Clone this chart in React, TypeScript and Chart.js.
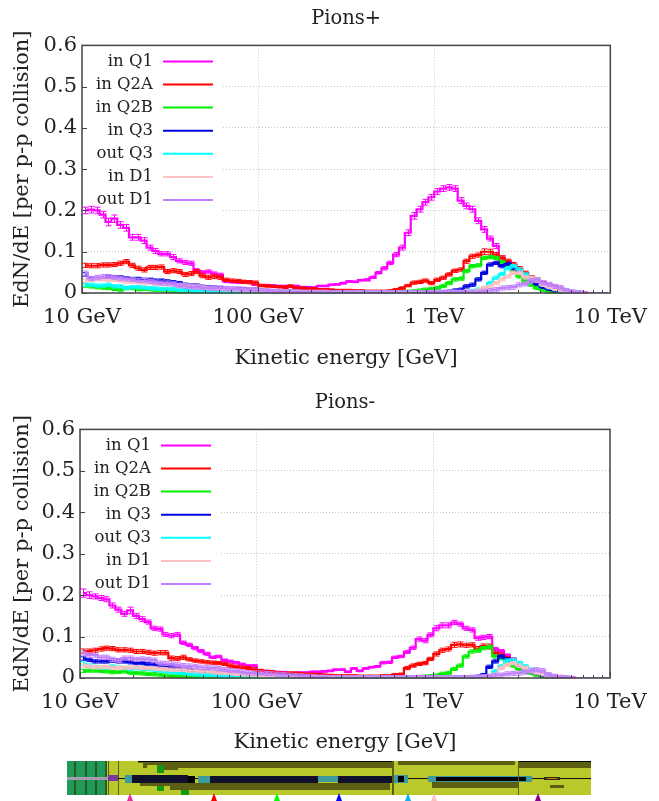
import React, { useEffect, useRef } from "react";
import { Chart, registerables } from "chart.js";
Chart.register(...registerables);

const FONT = "'DejaVu Serif', serif";
const xTickValues = [10, 100, 1000, 10000];
const xTickLabels = ["10 GeV", "100 GeV", "1 TeV", "10 TeV"];
const seriesNames = ["in Q1", "in Q2A", "in Q2B", "in Q3", "out Q3", "in D1", "out D1"];
const seriesColors = ["#ff00ff", "#ff0000", "#00ee00", "#0000e0", "#00ffff", "#ffc0c0", "#c080ff"];
const otherErrors = [0, 0, 0.004, 0.004, 0.004, 0.004, 0.005];
const BINS_PER_DECADE = 30;
const binCentres: number[] = [];
for (let i = 0; i < 90; i++) binCentres.push(Math.pow(10, 1 + (i + 0.5) / BINS_PER_DECADE));

const plusQ1 = [
  .2,.202,.2,.19,.172,.18,.165,.158,.135,.135,
  .127,.11,.102,.095,.095,.087,.078,.074,.072,.055,
  .05,.052,.047,.044,.028,.027,.026,.026,.027,.02,
  .019,.019,.018,.017,.017,.015,.017,.014,.014,.013,
  .017,.017,.02,.021,.024,.028,.027,.031,.032,.038,
  .049,.06,.073,.093,.11,.146,.187,.203,.22,.232,
  .246,.253,.256,.253,.224,.211,.203,.175,.154,.132,
  .114,.085,.075,.066,.055,.046,.038,.03,.025,.02,
  .015,.01,.006,.004,.002,.001,0,0,0,0];
const plusQ1Err = [
  .008,.008,.008,.008,.009,.009,.008,.008,.007,.007,
  .007,.006,.006,.005,.005,.006,.005,.005,.005,.004,
  .004,.004,.004,.004,.003,.003,.003,.003,.003,.002,
  .002,.002,.002,.002,.002,.002,.002,.002,.002,.002,
  .002,.002,.002,.002,.002,.002,.002,.002,.003,.003,
  .003,.004,.004,.005,.006,.007,.008,.007,.007,.007,
  .007,.007,.007,.007,.007,.007,.007,.007,.007,.006,
  .006,.005,.004,.004,.003,.003,.003,.002,.002,.002,
  .002,.001,.001,.001,.001,.001,0,0,0,0];
const plusQ2A = [
  .067,.066,.066,.068,.068,.069,.072,.076,.067,.06,
  .056,.062,.062,.063,.052,.054,.052,.045,.047,.052,
  .042,.038,.04,.038,.032,.03,.029,.027,.026,.025,
  .018,.017,.016,.015,.014,.017,.012,.012,.01,.01,
  .008,.008,.007,.006,.006,.006,.005,.005,.004,.004,
  .004,.004,.005,.008,.012,.018,.025,.027,.03,.024,
  .032,.037,.045,.054,.057,.077,.089,.092,.1,.1,
  .093,.085,.077,.069,.059,.049,.038,.032,.023,.017,
  .014,.01,.004,.002,.001,0,0,0,0,0];
const plusQ2AErr = [
  .005,.005,.005,.005,.005,.005,.005,.005,.005,.005,
  .005,.005,.005,.005,.005,.005,.005,.005,.005,.005,
  .005,.005,.005,.005,.004,.004,.004,.004,.004,.004,
  .003,.003,.003,.003,.003,.003,.003,.003,.003,.003,
  .003,.003,.003,.003,.003,.003,.003,.003,.003,.003,
  .003,.003,.003,.003,.003,.003,.004,.004,.004,.004,
  .004,.004,.004,.004,.004,.005,.005,.005,.007,.006,
  .005,.005,.005,.005,.005,.004,.004,.004,.004,.004,
  .004,.004,.003,.002,.001,0,0,0,0,0];
const plusQ2B = [
  .018,.016,.014,.013,.012,.01,.008,.012,.012,.009,
  .01,.009,.008,.007,.006,.005,.004,.004,.003,.003,
  .002,.002,.002,.001,.001,.001,.001,.001,.001,.001,
  .001,.001,.001,.001,.001,.001,.001,.001,.001,.001,
  .001,.001,.001,.001,.001,.001,.001,.001,.001,.001,
  .001,.001,.001,.002,.002,.003,.004,.006,.008,.01,
  .012,.017,.024,.033,.035,.053,.065,.067,.085,.087,
  .085,.075,.068,.055,.04,.03,.02,.012,.008,.004,
  .002,.001,0,0,0,0,0,0,0,0];
const plusQ3 = [
  .045,.036,.034,.036,.038,.038,.038,.036,.034,.034,
  .032,.032,.03,.03,.028,.026,.024,.02,.018,.018,
  .015,.014,.013,.012,.01,.01,.009,.009,.008,.008,
  .006,.005,.004,.004,.003,.003,.003,.002,.002,.002,
  .002,.002,.002,.001,.001,.001,.001,.001,.001,.001,
  .001,.001,.001,.001,.001,.001,.001,.001,.001,.001,
  .001,.002,.003,.006,.008,.016,.02,.033,.049,.069,
  .073,.065,.07,.06,.05,.04,.03,.022,.015,.01,
  .006,.003,.002,.001,0,0,0,0,0,0];
const plusOutQ3 = [
  .02,.02,.018,.018,.02,.016,.016,.012,.014,.014,
  .013,.012,.011,.01,.01,.009,.008,.007,.006,.005,
  .005,.004,.003,.003,.002,.002,.002,.002,.001,.001,
  .001,.001,.001,.001,.001,.001,.001,.001,.001,.001,
  .001,.001,.001,.001,.001,.001,.001,.001,.001,.001,
  .001,.001,.001,.001,.001,.001,.001,.001,.001,.001,
  .001,.001,.001,.001,.001,.002,.005,.008,.012,.024,
  .037,.046,.06,.065,.057,.045,.035,.03,.02,.014,
  .01,.006,.003,.002,.001,0,0,0,0,0];
const plusInD1 = [
  .03,.032,.034,.033,.032,.032,.03,.028,.027,.026,
  .024,.024,.022,.022,.021,.02,.02,.018,.017,.016,
  .014,.012,.011,.01,.009,.009,.008,.007,.006,.006,
  .005,.004,.004,.004,.003,.003,.003,.002,.002,.002,
  .002,.002,.001,.001,.001,.001,.001,.001,.001,.001,
  .001,.001,.001,.001,.001,.001,.001,.001,.001,.001,
  .001,.001,.001,.001,.001,.002,.003,.006,.012,.016,
  .024,.033,.04,.049,.049,.038,.037,.03,.02,.015,
  .01,.006,.003,.002,.001,0,0,0,0,0];
const plusOutD1 = [
  .048,.035,.038,.04,.04,.038,.036,.034,.033,.03,
  .03,.028,.026,.024,.024,.022,.018,.016,.015,.014,
  .013,.012,.011,.012,.011,.01,.01,.009,.008,.007,
  .006,.005,.004,.004,.003,.003,.003,.002,.002,.002,
  .002,.002,.001,.001,.001,.001,.001,.001,.001,.001,
  .001,.001,.001,.001,.001,.001,.001,.001,.001,.002,
  .002,.002,.002,.002,.002,.002,.002,.002,.004,.006,
  .008,.012,.013,.014,.02,.022,.03,.032,.025,.021,
  .016,.013,.006,.003,.001,0,0,0,0,0];

const minusQ1 = [
  .205,.2,.197,.193,.19,.175,.165,.155,.163,.15,
  .142,.135,.12,.118,.105,.102,.105,.085,.08,.072,
  .065,.058,.05,.052,.043,.04,.037,.033,.03,.03,
  .018,.017,.016,.014,.014,.012,.012,.013,.013,.015,
  .015,.016,.017,.02,.02,.015,.023,.017,.023,.026,
  .028,.037,.038,.05,.052,.063,.073,.094,.09,.104,
  .12,.127,.127,.134,.13,.12,.116,.096,.098,.1,
  .07,.065,.055,.046,.032,.025,.02,.016,.012,.008,
  .006,.004,.002,.001,0,0,0,0,0,0];
const minusQ1Err = [
  .01,.008,.006,.006,.006,.006,.006,.006,.008,.006,
  .006,.005,.005,.005,.005,.005,.005,.004,.004,.004,
  .004,.004,.003,.003,.003,.003,.003,.003,.002,.002,
  .002,.002,.002,.002,.002,.002,.002,.002,.002,.002,
  .002,.002,.002,.002,.002,.002,.002,.002,.002,.002,
  .002,.003,.003,.003,.003,.004,.004,.005,.005,.005,
  .006,.006,.006,.005,.005,.005,.005,.005,.005,.005,
  .004,.004,.003,.003,.003,.002,.002,.002,.002,.001,
  .001,.001,.001,.001,0,0,0,0,0,0];
const minusQ2A = [
  .065,.065,.067,.07,.072,.071,.068,.068,.067,.064,
  .064,.062,.06,.061,.061,.048,.047,.05,.045,.042,
  .04,.038,.037,.036,.034,.03,.027,.025,.024,.021,
  .018,.015,.015,.013,.011,.012,.012,.01,.009,.009,
  .008,.007,.006,.005,.005,.005,.005,.004,.004,.004,
  .004,.005,.005,.008,.009,.024,.03,.034,.036,.046,
  .058,.067,.07,.08,.081,.079,.08,.071,.077,.076,
  .06,.055,.048,.04,.032,.024,.018,.014,.01,.007,
  .005,.003,.001,0,0,0,0,0,0,0];
const minusQ2AErr = [
  .005,.005,.005,.005,.005,.005,.005,.005,.005,.005,
  .005,.005,.005,.005,.005,.005,.005,.005,.004,.004,
  .004,.004,.004,.004,.004,.004,.004,.004,.004,.004,
  .003,.003,.003,.003,.003,.003,.003,.003,.003,.003,
  .003,.003,.003,.003,.003,.003,.003,.003,.003,.003,
  .003,.003,.003,.003,.003,.004,.004,.004,.004,.004,
  .005,.005,.005,.006,.006,.005,.005,.005,.005,.006,
  .005,.005,.004,.004,.004,.004,.004,.004,.003,.003,
  .003,.002,.001,0,0,0,0,0,0,0];
const minusQ2B = [
  .017,.018,.018,.017,.016,.014,.015,.016,.013,.012,
  .011,.01,.009,.008,.006,.005,.005,.004,.003,.003,
  .002,.002,.002,.001,.001,.001,.001,.001,.001,.001,
  .001,.001,.001,.001,.001,.001,.001,.001,.001,.001,
  .001,.001,.001,.001,.001,.001,.001,.001,.001,.001,
  .001,.001,.001,.001,.001,.002,.002,.002,.003,.004,
  .006,.01,.012,.022,.03,.052,.064,.066,.072,.075,
  .052,.048,.04,.03,.022,.016,.012,.008,.005,.003,
  .002,.001,0,0,0,0,0,0,0,0];
const minusQ3 = [
  .047,.044,.04,.04,.04,.042,.04,.04,.038,.036,
  .036,.033,.033,.03,.028,.026,.024,.022,.02,.018,
  .016,.016,.014,.013,.012,.011,.01,.009,.008,.008,
  .007,.006,.006,.005,.005,.004,.004,.003,.003,.003,
  .002,.002,.002,.001,.001,.001,.001,.001,.001,.001,
  .001,.001,.001,.001,.001,.001,.001,.001,.001,.001,
  .001,.001,.001,.001,.001,.001,.001,.003,.007,.027,
  .04,.052,.045,.04,.032,.024,.017,.012,.008,.005,
  .003,.002,.001,0,0,0,0,0,0,0];
const minusOutQ3 = [
  .035,.03,.027,.026,.025,.028,.025,.024,.022,.024,
  .022,.022,.02,.018,.016,.014,.013,.012,.01,.009,
  .008,.007,.006,.005,.005,.004,.004,.003,.003,.003,
  .002,.002,.002,.002,.002,.001,.001,.001,.001,.001,
  .001,.001,.001,.001,.001,.001,.001,.001,.001,.001,
  .001,.001,.001,.001,.001,.001,.001,.001,.001,.001,
  .001,.001,.001,.001,.001,.001,.001,.001,.002,.004,
  .016,.028,.042,.044,.036,.028,.02,.014,.01,.006,
  .004,.002,.001,0,0,0,0,0,0,0];
const minusInD1 = [
  .03,.028,.026,.026,.027,.025,.024,.025,.025,.026,
  .024,.024,.023,.022,.021,.02,.02,.02,.018,.018,
  .016,.016,.014,.013,.012,.012,.01,.009,.008,.007,
  .006,.005,.005,.004,.004,.003,.003,.003,.002,.002,
  .002,.002,.002,.001,.001,.001,.001,.001,.001,.001,
  .001,.001,.001,.001,.001,.001,.001,.001,.001,.001,
  .001,.001,.001,.001,.001,.001,.001,.001,.002,.003,
  .008,.024,.032,.036,.03,.024,.017,.013,.009,.006,
  .004,.002,.001,0,0,0,0,0,0,0];
const minusOutD1 = [
  .06,.055,.055,.05,.05,.045,.042,.048,.048,.045,
  .046,.045,.043,.036,.035,.034,.032,.03,.029,.028,
  .026,.025,.024,.023,.02,.018,.017,.015,.013,.012,
  .012,.011,.01,.009,.008,.007,.006,.005,.004,.003,
  .002,.002,.001,.001,.001,.001,.001,.001,.001,.001,
  .001,.001,.001,.001,.001,.001,.001,.001,.001,.001,
  .001,.001,.001,.001,.001,.001,.002,.002,.003,.004,
  .006,.007,.01,.011,.012,.014,.017,.02,.018,.008,
  .004,.002,.001,0,0,0,0,0,0,0];

const plusSeries = [plusQ1, plusQ2A, plusQ2B, plusQ3, plusOutQ3, plusInD1, plusOutD1];
const minusSeries = [minusQ1, minusQ2A, minusQ2B, minusQ3, minusOutQ3, minusInD1, minusOutD1];
const plusErrors = [plusQ1Err, plusQ2AErr];
const minusErrors = [minusQ1Err, minusQ2AErr];

const errorBarPlugin = {
  id: "errorBars",
  beforeDatasetDraw(chart: any, args: any) {
    const ds = chart.data.datasets[args.index];
    const { x, y } = chart.scales;
    const ctx = chart.ctx;
    ctx.save();
    ctx.strokeStyle = ds.borderColor;
    ctx.lineWidth = 1;
    ds.errors.forEach((err: number, i: number) => {
      const v = ds.data[i].y;
      if (!err || !v) return;
      const px = Math.round(x.getPixelForValue(ds.data[i].x)) + 0.5;
      const hi = y.getPixelForValue(v + err);
      const lo = y.getPixelForValue(Math.max(0, v - err));
      ctx.beginPath();
      ctx.moveTo(px, hi); ctx.lineTo(px, lo);
      ctx.moveTo(px - 3, hi); ctx.lineTo(px + 3, hi);
      ctx.moveTo(px - 3, lo); ctx.lineTo(px + 3, lo);
      ctx.stroke();
    });
    ctx.restore();
  },
};

const legendPlugin = {
  id: "gnuLegend",
  beforeDatasetsDraw(chart: any) {
    const { ctx, chartArea: a } = chart;
    ctx.save();
    ctx.fillStyle = "#fff";
    ctx.fillRect(a.left + 1, a.top + 1, 140, 168);
    ctx.font = `16.5px ${FONT}`;
    ctx.textAlign = "right";
    ctx.textBaseline = "middle";
    chart.data.datasets.forEach((ds: any, i: number) => {
      const yy = a.top + 16 + 23.1 * i;
      ctx.fillStyle = "#222";
      ctx.fillText(ds.label, a.left + 71, yy);
      ctx.strokeStyle = ds.borderColor;
      ctx.lineWidth = 2;
      ctx.beginPath();
      ctx.moveTo(a.left + 81, yy);
      ctx.lineTo(a.left + 131, yy);
      ctx.stroke();
    });
    ctx.restore();
  },
};

const framePlugin = {
  id: "gnuFrame",
  afterDraw(chart: any) {
    const { ctx, chartArea: a, scales } = chart;
    ctx.save();
    ctx.strokeStyle = "#444";
    ctx.lineWidth = 1;
    ctx.beginPath();
    scales.x.ticks.forEach((t: any) => {
      const px = Math.round(scales.x.getPixelForValue(t.value)) + 0.5;
      ctx.moveTo(px, a.bottom);
      ctx.lineTo(px, a.bottom - (t.major ? 6 : 3));
    });
    scales.y.ticks.forEach((t: any) => {
      const py = Math.round(scales.y.getPixelForValue(t.value)) + 0.5;
      ctx.moveTo(a.left, py);
      ctx.lineTo(a.left + 5, py);
    });
    ctx.stroke();
    ctx.lineWidth = 1.5;
    ctx.strokeRect(a.left, a.top, a.right - a.left, a.bottom - a.top);
    ctx.restore();
  },
};

function makeChart(canvas: HTMLCanvasElement, title: string, series: number[][], errors: number[][], left: number, right: number, topPad: number, xTitlePad: number) {
  const datasets = series.map((vals, s) => ({
    label: seriesNames[s],
    data: vals.map((v, i) => ({ x: binCentres[i], y: v })),
    errors: errors[s] || vals.map(() => otherErrors[s]),
    borderColor: seriesColors[s],
    borderWidth: 2.2,
    pointRadius: 0,
    stepped: "middle" as const,
    fill: false,
    order: series.length - s,
  }));
  return new Chart(canvas, {
    type: "line",
    data: { datasets },
    plugins: [errorBarPlugin, legendPlugin, framePlugin],
    options: {
      animation: false,
      responsive: false,
      layout: { padding: { left: 0, right, top: topPad, bottom: 0 } },
      plugins: {
        legend: { display: false },
        tooltip: { enabled: false },
        title: {
          display: true,
          fullSize: false,
          text: title,
          color: "#222",
          font: { family: FONT, size: 19.5, weight: "normal" },
          padding: { top: 0, bottom: 15 },
        },
      },
      scales: {
        x: {
          type: "logarithmic",
          min: 10,
          max: 10000,
          border: { display: false, dash: [1, 2] },
          grid: {
            color: (c: any) => (c.tick && c.tick.major ? "#c8c8c8" : "rgba(0,0,0,0)"),
            drawTicks: false,
          },
          ticks: {
            autoSkip: false,
            maxRotation: 0,
            color: "#222",
            padding: 12,
            font: { family: FONT, size: 21 },
            major: { enabled: true },
            callback: (v: any) => {
              const k = xTickValues.indexOf(Number(v));
              return k >= 0 ? xTickLabels[k] : "";
            },
          },
          title: {
            display: true,
            text: "Kinetic energy [GeV]",
            color: "#222",
            font: { family: FONT, size: 21 },
            padding: { top: 0, bottom: xTitlePad },
          },
          afterFit: (s: any) => { s.height = 82; },
        },
        y: {
          min: 0,
          max: 0.6,
          border: { display: false, dash: [1, 2] },
          grid: { color: "#c8c8c8", drawTicks: false },
          ticks: {
            stepSize: 0.1,
            color: "#222",
            padding: 5,
            font: { family: FONT, size: 21 },
          },
          title: {
            display: true,
            text: "EdN/dE [per p-p collision]",
            color: "#222",
            font: { family: FONT, size: 21 },
            padding: { top: 10, bottom: 0 },
          },
          afterFit: (s: any) => { s.width = left; },
        },
      },
    } as any,
  });
}

const OLIVE = "#b9c92b";
const DARK = "#5c5e12";
const GREEN = "#1f9a5a";
const TEAL = "#3c9a9c";
const NAVY = "#10102c";
const beamlineRects: [number, number, number, number, string][] = [
  [67, 761, 524, 34, OLIVE],
  [67, 761, 38, 34, GREEN],
  [74, 761, 2, 34, "#2e5a20"], [85, 761, 2, 34, "#2e5a20"], [95, 761, 2, 34, "#2e5a20"], [105, 761, 2, 34, "#2e5a20"],
  [67, 777, 43, 3, "#a89ab0"],
  [108, 761, 1, 34, DARK], [118, 761, 1, 34, DARK],
  [138, 761, 255, 1.5, "#000"], [398, 761, 117, 4, DARK], [518, 761, 73, 1.5, "#000"],
  [143, 763, 250, 5, DARK], [518, 763, 73, 5, DARK],
  [147, 768, 31, 2, DARK],
  [147, 765, 10, 7, OLIVE], [157, 765, 7, 8, "#0f9a0f"],
  [147, 786, 10, 7, OLIVE], [157, 784, 7, 7, "#0f9a0f"],
  [181, 790, 8, 5, "#0f9a0f"],
  [108, 775, 10, 6, "#7a3aa0"],
  [118, 778, 473, 1, "#111"],
  [125, 775, 7, 8, TEAL],
  [132, 775, 56, 8, NAVY], [188, 776, 7, 7, "#000"], [198, 776, 12, 7, TEAL], [210, 776, 108, 7, NAVY], [318, 776, 20, 6, TEAL], [338, 776, 56, 7, NAVY],
  [394, 775, 14, 8, TEAL], [398, 776, 6, 6, "#000"],
  [428, 776, 104, 6, TEAL], [436, 777, 90, 4, "#000"],
  [140, 783, 250, 3, DARK], [170, 786, 220, 4, DARK], [432, 782, 86, 6, DARK],
  [544, 777, 16, 3, "#2a2a10"], [547, 778, 10, 1, "#d07820"], [550, 785, 14, 3, DARK],
  [392, 761, 2, 34, DARK], [518, 761, 1, 34, DARK],
];
const triangleColors = ["#e8309c", "#ff0000", "#00ff00", "#0000ff", "#10b0f0", "#ffc0c0", "#900090"];
const triangleX = [130, 214, 277, 339, 408, 434, 538];

export default function App() {
  const plusRef = useRef<HTMLCanvasElement>(null);
  const minusRef = useRef<HTMLCanvasElement>(null);
  const stripRef = useRef<HTMLCanvasElement>(null);
  useEffect(() => {
    const a = makeChart(plusRef.current!, "Pions+", plusSeries, plusErrors, 82, 48, 7, 4);
    const b = makeChart(minusRef.current!, "Pions-", minusSeries, minusErrors, 80, 49, 6, 5);
    const ctx = stripRef.current!.getContext("2d")!;
    beamlineRects.forEach(([x, y, w, h, c]) => {
      ctx.fillStyle = c;
      ctx.fillRect(x, y - 755, w, h);
    });
    triangleX.forEach((x, i) => {
      ctx.fillStyle = triangleColors[i];
      ctx.beginPath();
      ctx.moveTo(x, 793 - 755);
      ctx.lineTo(x + 3, 801 - 755);
      ctx.lineTo(x - 3, 801 - 755);
      ctx.closePath();
      ctx.fill();
    });
    return () => { a.destroy(); b.destroy(); };
  }, []);
  const abs = (top: number): React.CSSProperties => ({ position: "absolute", left: 0, top });
  return (
    <div style={{ position: "absolute", left: 0, top: 0, width: 659, height: 801, background: "#fff", overflow: "hidden" }}>
      <canvas ref={plusRef} width={659} height={375} style={abs(0)} />
      <canvas ref={minusRef} width={659} height={375} style={abs(385)} />
      <canvas ref={stripRef} width={659} height={46} style={abs(755)} />
    </div>
  );
}
